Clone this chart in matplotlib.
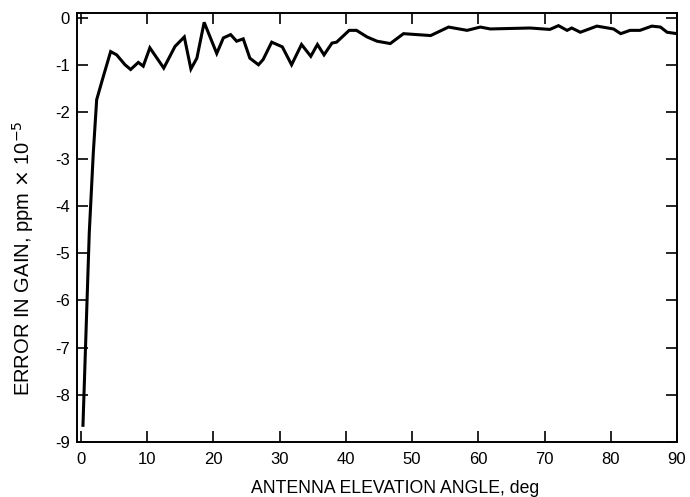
import matplotlib
matplotlib.use("Agg")
import matplotlib.pyplot as plt

plt.rcParams['font.family'] = ['Liberation Sans', 'DejaVu Sans']
plt.rcParams['axes.unicode_minus'] = False

# antenna elevation angle, deg
angle = [0.3, 1.25, 1.86, 2.37, 3.37, 4.48, 5.39, 6.65, 7.5, 8.66, 9.4, 10.4,
         12.5, 14.2, 15.6, 16.6, 17.5, 18.6, 20.5, 21.5, 22.6, 23.5, 24.5,
         25.5, 26.8, 27.5, 28.8, 30.4, 31.8, 33.3, 34.7, 35.7, 36.7, 37.9,
         38.6, 40.5, 41.6, 43.2, 44.7, 46.7, 48.7, 50.7, 52.8, 55.5, 58.3,
         60.3, 61.8, 67.8, 70.8, 72.1, 73.4, 74.1, 75.4, 77.9, 80.4, 81.5,
         82.9, 84.4, 86.2, 87.5, 88.5, 90.0]
# error in gain, ppm x 1e-5
error = [-8.65, -4.57, -2.87, -1.74, -1.25, -0.72, -0.79, -1.0, -1.1, -0.95,
         -1.03, -0.64, -1.07, -0.61, -0.41, -1.09, -0.86, -0.10, -0.76, -0.43,
         -0.36, -0.50, -0.45, -0.86, -1.0, -0.89, -0.52, -0.62, -1.0, -0.57,
         -0.82, -0.57, -0.79, -0.54, -0.52, -0.27, -0.27, -0.41, -0.50, -0.55,
         -0.34, -0.36, -0.38, -0.20, -0.27, -0.20, -0.24, -0.22, -0.25, -0.17,
         -0.27, -0.22, -0.31, -0.18, -0.24, -0.34, -0.27, -0.27, -0.18, -0.20,
         -0.31, -0.34]

xticks = list(range(0, 91, 10))
yticks = list(range(-9, 1))

fig = plt.figure(figsize=(6.9, 4.97), dpi=100)
ax = fig.add_axes([0.1116, 0.111, 0.8696, 0.863])

ax.plot(angle, error, color='black', lw=2.2, solid_joinstyle='miter')

ax.set_xlim(-0.6, 90)
ax.set_ylim(-9.0, 0.1)
ax.set_xticks(xticks)
ax.set_yticks(yticks)
ax.set_yticklabels([str(v) for v in yticks])

ax.tick_params(axis='both', direction='in', length=8, width=1.2,
               labelsize=12, top=True, right=True)
ax.tick_params(axis='x', pad=7)
ax.tick_params(axis='y', pad=5)
for s in ax.spines.values():
    s.set_linewidth(1.4)

ax.set_xlabel('ANTENNA ELEVATION ANGLE, deg', fontsize=12.7)
ax.set_ylabel('ERROR IN GAIN, ppm $\\times$ 10$^{-5}$', fontsize=14.5)
# labels sit a little off-centre in the original
ax.xaxis.set_label_coords(0.53, -0.088)
ax.yaxis.set_label_coords(-0.068, 0.428)

fig.savefig('out.png', dpi=100)
